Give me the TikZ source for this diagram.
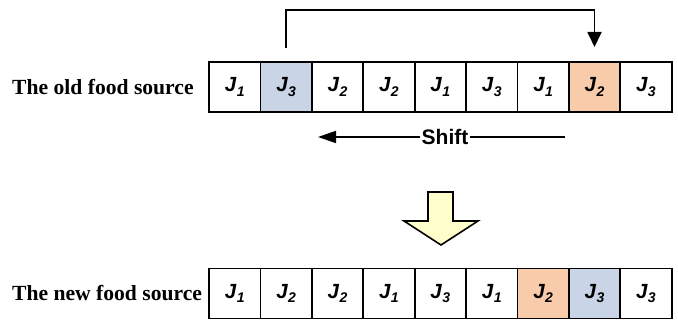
\documentclass[tikz,border=0pt]{standalone}
\usepackage{fontspec}
\setmainfont{Liberation Serif}
\setsansfont{Liberation Sans}
\usetikzlibrary{positioning,arrows.meta}

\definecolor{jobblue}{RGB}{201,213,230}
\definecolor{joborange}{RGB}{248,204,170}
\definecolor{downyellow}{RGB}{255,255,204}

\newcommand{\job}[1]{J\kern0.5pt\raisebox{-0.45ex}{\fontsize{14}{14}\selectfont #1}}

\tikzset{
  cell/.style={draw,line width=1.8pt,minimum width=51.4pt,minimum height=50pt,
    inner sep=0pt,outer sep=0pt,font=\sffamily\bfseries\itshape\fontsize{20.5}{20.5}\selectfont},
  rowlabel/.style={inner sep=0pt,font=\bfseries\fontsize{21.6}{21.6}\selectfont},
}

\begin{document}
\begin{tikzpicture}[x=1pt,y=1pt,>={Triangle[length=15pt,width=14pt]},node distance=0pt]
\useasboundingbox (0,0) rectangle (678,320);

% old food source
\node[cell]   (o1) at (234.7,233) {\job1};
\node[cell,fill=jobblue]   (o2) [right=of o1] {\job3};
\node[cell]   (o3) [right=of o2] {\job2};
\node[cell]   (o4) [right=of o3] {\job2};
\node[cell]   (o5) [right=of o4] {\job1};
\node[cell]   (o6) [right=of o5] {\job3};
\node[cell]   (o7) [right=of o6] {\job1};
\node[cell,fill=joborange] (o8) [right=of o7] {\job2};
\node[cell]   (o9) [right=of o8] {\job3};
\node[rowlabel,anchor=west] (old) at (12,233) {The old food source};

% new food source
\node[cell]   (n1) at (234.7,26.5) {\job1};
\node[cell]   (n2) [right=of n1] {\job2};
\node[cell]   (n3) [right=of n2] {\job2};
\node[cell]   (n4) [right=of n3] {\job1};
\node[cell]   (n5) [right=of n4] {\job3};
\node[cell]   (n6) [right=of n5] {\job1};
\node[cell,fill=joborange] (n7) [right=of n6] {\job2};
\node[cell,fill=jobblue]   (n8) [right=of n7] {\job3};
\node[cell]   (n9) [right=of n8] {\job3};
\node[rowlabel,anchor=west] (new) at (12,26.5) {The new food source};

% moved job
\draw[->,line width=1.8pt,shorten <=14pt,shorten >=15pt] (o2.north) -- ++(0,52) -| (o8.north);

% shift of the jobs in between
\coordinate (shiftend) at (565,183);
\coordinate (shifttip) at (318,183);
\node[inner sep=1pt,font=\sffamily\bfseries\fontsize{21}{21}\selectfont] (shift) at (445,183) {Shift};
\draw[line width=1.8pt] (shiftend) -- (shift);
\draw[->,line width=1.8pt,>={Triangle[length=18pt,width=12pt]}] (shift) -- (shifttip);

% block arrow between the rows
\draw[fill=downyellow,line width=1.6pt,line join=miter]
  (428,128) -- (453,128) -- (453,99) -- (478,99) -- (441,75) -- (404,99) -- (428,99) -- cycle;

\end{tikzpicture}
\end{document}
